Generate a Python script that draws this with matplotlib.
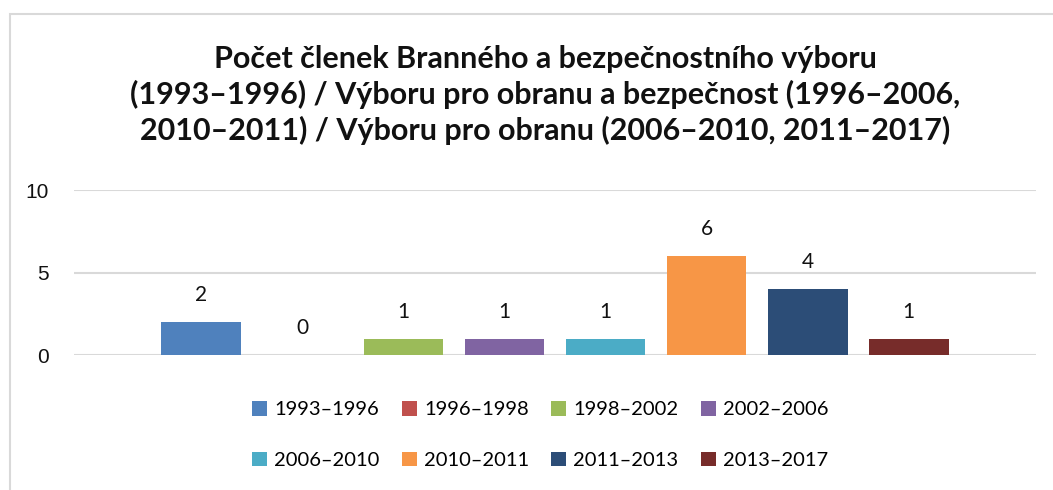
import matplotlib
matplotlib.use('Agg')
import matplotlib.pyplot as plt
from matplotlib.patches import Rectangle

periods = ['1993–1996', '1996–1998', '1998–2002', '2002–2006',
           '2006–2010', '2010–2011', '2011–2013', '2013–2017']
counts = [2, 0, 1, 1, 1, 6, 4, 1]
colors = ['#4F81BD', '#C0504D', '#9BBB59', '#8064A2',
          '#4BACC6', '#F79646', '#2C4D77', '#772C2A']
yticks = [0, 5, 10]
title = ('Počet členek Branného a bezpečnostního výboru\n'
         '(1993–1996) / Výboru pro obranu a bezpečnost (1996–2006,\n'
         '2010–2011) / Výboru pro obranu (2006–2010, 2011–2017)')

fig = plt.figure(figsize=(10.53, 4.9), dpi=100)
ax = fig.add_axes([74/1053, 1-355/490, (1036-74)/1053, (355-190)/490])

# outer frame like the Excel chart area
fig.patches.append(Rectangle((10/1053, -0.1), 1.2, 1-14/490+0.1, transform=fig.transFigure,
                             fill=False, edgecolor='#d9d9d9', linewidth=1.5))

handles = []
for i, (p, c, col) in enumerate(zip(periods, counts, colors)):
    b = ax.bar(i, c, width=0.79, color=col, label=p, zorder=3)
    ax.bar_label(b, padding=12, fontsize=15, family=['Lato', 'DejaVu Sans'], color='#111111')
    handles.append(b)

ax.set_xlim(-1.26, 8.26)
ax.set_ylim(0, 10)
ax.set_yticks(yticks)
ax.set_xticks([])
ax.yaxis.grid(True, color='#d9d9d9', linewidth=1.5, zorder=0)
for s in ax.spines.values():
    s.set_visible(False)
ax.tick_params(axis='y', length=0, pad=18, labelsize=15, labelcolor='#111111')
for t in ax.get_yticklabels():
    t.set_family(['Liberation Sans', 'DejaVu Sans'])

fig.text(0.518, 1-95/490, title, ha='center', va='center', fontsize=22,
         fontweight='bold', family=['Lato', 'DejaVu Sans'], linespacing=1.3, color='#111111')

# legend filled row by row, 4 per row
order = [0, 4, 1, 5, 2, 6, 3, 7]
fig.legend([handles[k] for k in order], [periods[k] for k in order],
           loc='center', bbox_to_anchor=(0.513, 1-435/490), ncol=4, frameon=False,
           prop={'family': ['Lato', 'DejaVu Sans'], 'size': 14.5},
           handlelength=0.75, handleheight=0.75, handletextpad=0.35,
           columnspacing=1.1, labelspacing=1.65)

fig.savefig('out.png', dpi=100)
